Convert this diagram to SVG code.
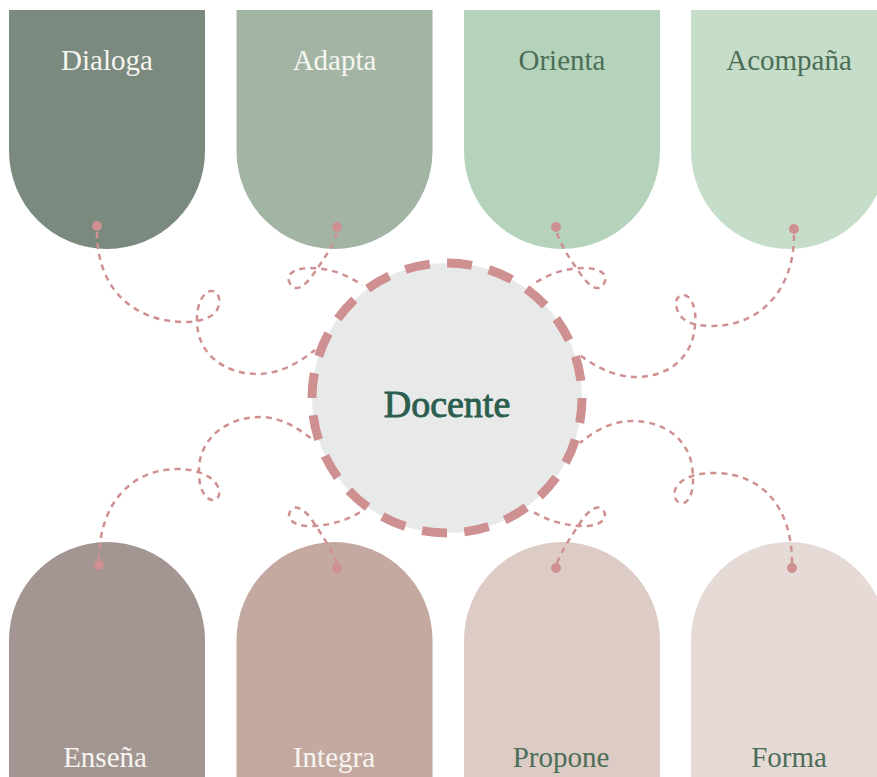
<svg xmlns="http://www.w3.org/2000/svg" width="877" height="777" viewBox="0 0 877 777">
<style>
.lbl{font-family:"Liberation Serif","Times New Roman",serif;font-size:29px;text-anchor:middle}
.lt{fill:#f7f5f0}
.dk{fill:#4c6e56}
.conn{fill:none;stroke:#cf9091;stroke-width:2.5;stroke-dasharray:6 5}
.dot{fill:#cf9091}
</style>
<rect width="877" height="777" fill="#ffffff"/>
<g id="node-dialoga"><path d="M9,10 H205 V151 A98,98 0 0 1 9,151 Z" fill="#7b8a7e"/><text class="lbl lt" x="107" y="70">Dialoga</text></g>
<g id="node-adapta"><path d="M236.5,10 H432.5 V151 A98,98 0 0 1 236.5,151 Z" fill="#a2b5a5"/><text class="lbl lt" x="334.5" y="70">Adapta</text></g>
<g id="node-orienta"><path d="M464,10 H660 V151 A98,98 0 0 1 464,151 Z" fill="#b5d3bb"/><text class="lbl dk" x="562" y="70">Orienta</text></g>
<g id="node-acompana"><path d="M691,10 H887 V151 A98,98 0 0 1 691,151 Z" fill="#c6ddca"/><text class="lbl dk" x="789" y="70">Acompaña</text></g>
<g id="node-ensena"><path d="M9,790 V640 A98,98 0 0 1 205,640 V790 Z" fill="#a39591"/><text class="lbl lt" x="105" y="767">Enseña</text></g>
<g id="node-integra"><path d="M236.5,790 V640 A98,98 0 0 1 432.5,640 V790 Z" fill="#c4a9a0"/><text class="lbl lt" x="334" y="767">Integra</text></g>
<g id="node-propone"><path d="M464,790 V640 A98,98 0 0 1 660,640 V790 Z" fill="#ddccc6"/><text class="lbl dk" x="561" y="767">Propone</text></g>
<g id="node-forma"><path d="M691,790 V640 A98,98 0 0 1 887,640 V790 Z" fill="#e5dad6"/><text class="lbl dk" x="789" y="767">Forma</text></g>
<g id="connectors">
<path class="conn" d="M97,232 C97,290 135,322 185,322 C200,322 212,318 217,310 C222,300 218,290 211,291 C203,292 196,305 197,322 C198,355 225,374 258,374 C280,374 300,362 315,350"/>
<path class="conn" d="M337,233 C332,248 322,262 312,276 C305,286 296,292 291,285 C284,276 292,268 310,268 C330,268 348,275 362,285"/>
<path class="conn" d="M557,233 C562,248 572,262 582,276 C589,286 598,292 603,285 C610,276 602,268 584,268 C564,268 546,275 532,285"/>
<path class="conn" d="M794,235 C794,292 758,326 712,326 C697,326 685,323 680,315 C673,305 676,295 683,295 C691,295 697,308 695,325 C693,358 668,377 636,377 C614,377 594,366 580,355"/>
<path class="conn" d="M99,560 C99,505 130,469 178,469 C195,469 211,475 217,485 C222,494 218,501 212,500 C204,499 198,486 199,468 C200,440 225,417 260,417 C281,417 298,428 313,440"/>
<path class="conn" d="M337,563 C332,550 322,535 312,520 C305,510 296,504 291,510 C285,518 293,526 310,526 C330,526 348,520 362,511"/>
<path class="conn" d="M557,563 C562,550 572,535 582,520 C589,510 598,504 603,510 C609,518 601,526 584,526 C564,526 546,520 532,511"/>
<path class="conn" d="M792,563 C792,505 760,473 714,473 C697,473 684,477 677,486 C671,495 676,504 683,503 C691,502 695,487 692,466 C688,440 665,421 632,421 C613,421 595,430 580,443"/>
<circle class="dot" cx="97" cy="226" r="5"/>
<circle class="dot" cx="337" cy="227" r="5"/>
<circle class="dot" cx="556" cy="227" r="5"/>
<circle class="dot" cx="794" cy="229" r="5"/>
<circle class="dot" cx="99" cy="565" r="5"/>
<circle class="dot" cx="337" cy="568" r="5"/>
<circle class="dot" cx="556" cy="568" r="5"/>
<circle class="dot" cx="792" cy="568" r="5"/>
</g>
<g id="node-docente">
<circle cx="447" cy="398" r="135" fill="#e8eaea" stroke="#cf9091" stroke-width="9" stroke-dasharray="25 17.4"/>
<text x="447" y="417" font-family="'Liberation Serif','Times New Roman',serif" font-size="38" fill="#2b5e4f" stroke="#2b5e4f" stroke-width="0.9" text-anchor="middle">Docente</text>
</g>
</svg>
